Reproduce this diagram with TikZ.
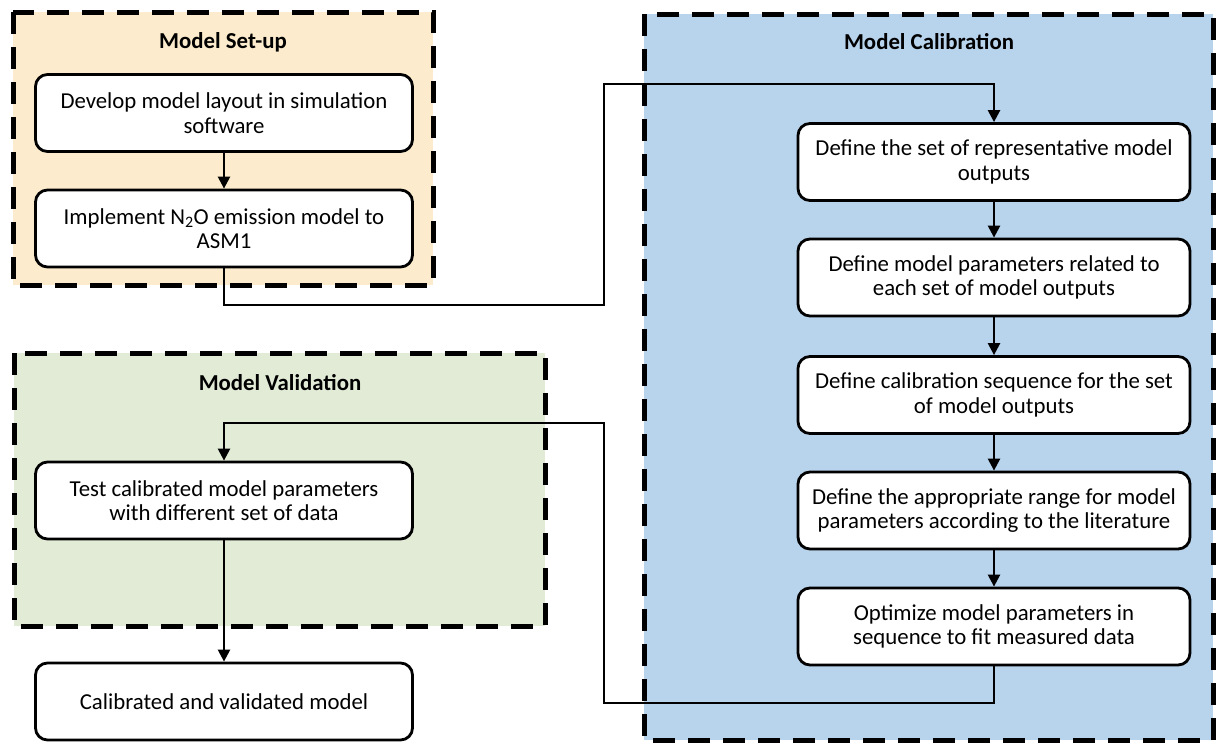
\documentclass[tikz,border=0pt]{standalone}
\usepackage{fontspec}
\setmainfont{Carlito}
\usetikzlibrary{arrows.meta}
\definecolor{setupfill}{RGB}{252,236,205}
\definecolor{calibfill}{RGB}{184,211,236}
\definecolor{validfill}{RGB}{226,235,214}
\begin{document}
\begin{tikzpicture}[
				x=1pt,y=-1pt,
				every node/.style={
						font=\fontsize{22.8}{24.5}\selectfont,
					},
				stepbox/.style={draw, line width=2.8pt, fill=white, rounded corners=12pt, align=center, minimum height=77pt, inner sep=0pt},
				leftbox/.style={stepbox, minimum width=377pt},
				calbox/.style={stepbox, minimum width=392pt},
				frame/.style={line width=5pt, dash pattern=on 22pt off 13pt},
				grouptitle/.style={font=\fontsize{22.8}{24.5}\selectfont\bfseries},
				flow/.style={line width=2.4pt, -{Triangle[length=12pt,width=12pt]}},
			]
			\useasboundingbox (0,0) rectangle (1217,744);
			% group frames
			\filldraw[frame, fill=setupfill] (13,12) rectangle (433,285);
			\filldraw[frame, fill=calibfill] (644,14) rectangle (1213,740);
			\filldraw[frame, fill=validfill] (14,353) rectangle (545,626);
			\node[grouptitle] (setuptitle) at (223,42) {Model Set-up};
			\node[grouptitle] (calibtitle) at (929,42) {Model Calibration};
			\node[grouptitle] (validtitle) at (280,383) {Model Validation};
			% set-up
			\node[leftbox] (s1) at (224,113) {Develop model layout in simulation\\software};
			\node[leftbox] (s2) at (224,228.5) {Implement N\textsubscript{2}O emission model to\\ASM1};
			% calibration
			\node[calbox] (c1) at (994,162) {Define the set of representative model\\outputs};
			\node[calbox] (c2) at (994,277.5) {Define model parameters related to\\each set of model outputs};
			\node[calbox] (c3) at (994,395) {Define calibration sequence for the set\\of model outputs};
			\node[calbox] (c4) at (994,510.5) {Define the appropriate range for model\\parameters according to the literature};
			\node[calbox] (c5) at (994,626.5) {Optimize model parameters in\\sequence to fit measured data};
			% validation
			\node[leftbox] (v1) at (224,500.5) {Test calibrated model parameters\\with different set of data};
			\node[leftbox] (v2) at (224,701.5) {Calibrated and validated model};
			% connectors
			\coordinate (j1) at (604,305);
			\coordinate (j2) at (604,84);
			\coordinate (j3) at (604,703);
			\coordinate (j4) at (604,423);
			\draw[flow] (s1.south) -- (s2.north);
			\draw[flow] (s2.south) |- (j1) -- (j2) -| (c1.north);
			\foreach \a/\b in {c1/c2,c2/c3,c3/c4,c4/c5} {
					\draw[flow] (\a.south) -- (\b.north);
				}
			\draw[flow] (c5.south) |- (j3) -- (j4) -| (v1.north);
			\draw[flow] (v1.south) -- (v2.north);
		\end{tikzpicture}
\end{document}
